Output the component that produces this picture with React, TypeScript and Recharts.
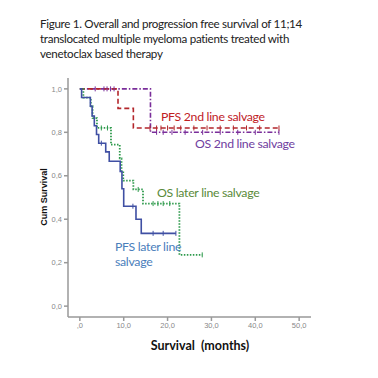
import React from 'react';
import { LineChart, Line, XAxis, YAxis } from 'recharts';

// Kaplan-Meier steps (months, cumulative survival)
const pfsLaterTimes = [0, 0.4, 2.4, 2.8, 3.3, 3.8, 4.3, 5.9, 6.7, 9.2, 9.6, 10.0, 12.8, 14.0];
const pfsLaterSurv = [1.0, 0.96, 0.92, 0.875, 0.83, 0.79, 0.75, 0.71, 0.667, 0.62, 0.54, 0.46, 0.4, 0.335];
const pfsLaterCensor = [4.9, 12.1, 16.7, 19.0, 21.9];

const osLaterTimes = [0, 0.8, 2.5, 2.9, 3.9, 7.1, 9.1, 9.5, 9.9, 12.2, 14.4, 22.7];
const osLaterSurv = [1.0, 0.96, 0.92, 0.865, 0.82, 0.743, 0.68, 0.62, 0.578, 0.537, 0.472, 0.236];
const osLaterCensor = [4.9, 6.3, 13.3, 16.7, 17.8, 19.0, 20.5, 27.9];

const pfs2ndTimes = [0, 8.7, 12.2];
const pfs2ndSurv = [1.0, 0.91, 0.82];
const pfs2ndCensor = [16.0, 17.5, 18.5, 20.0, 21.5, 23.0, 26.0, 29.0, 32.0, 35.0, 38.0, 41.0, 45.4];

const os2ndTimes = [0, 16.1];
const os2ndSurv = [1.0, 0.8];
const os2ndCensor = [3.5, 5.5, 6.2, 7.0, 7.8, 17.5, 19.0, 21.0, 24.0, 28.0, 32.0, 36.0, 40.0, 45.4];

const xTicks = [0, 10, 20, 30, 40, 50];
const yTicks = [0, 0.2, 0.4, 0.6, 0.8, 1.0];

type Pt = { t: number; s: number; c: boolean };

function buildCurve(times: number[], surv: number[], censor: number[]): Pt[] {
    const pts: Pt[] = times.map((t, i) => ({ t, s: surv[i], c: false }));
    censor.forEach((t) => {
        let s = surv[0];
        times.forEach((tt, i) => { if (tt <= t) s = surv[i]; });
        pts.push({ t, s, c: true });
    });
    return pts.sort((a, b) => a.t - b.t);
}

const pfsLater = buildCurve(pfsLaterTimes, pfsLaterSurv, pfsLaterCensor);
const osLater = buildCurve(osLaterTimes, osLaterSurv, osLaterCensor);
const pfs2nd = buildCurve(pfs2ndTimes, pfs2ndSurv, pfs2ndCensor);
const os2nd = buildCurve(os2ndTimes, os2ndSurv, os2ndCensor);

// eslint-disable-next-line @typescript-eslint/no-explicit-any
const censorDot = (color: string) => (props: any) => {
    const { cx, cy, payload, index } = props;
    if (!payload?.c) return <g key={index} />;
    return <line key={index} x1={cx} x2={cx} y1={cy - 2.5} y2={cy + 2.5} stroke={color} strokeWidth={1} />;
};

const fmtComma = (v: number) => v.toFixed(1).replace('.', ',');
const fmtX = (v: number) => (v === 0 ? ',0' : fmtComma(v));

const txt: React.CSSProperties = { position: 'absolute', whiteSpace: 'nowrap', lineHeight: 1, fontFamily: 'Lato, sans-serif' };

export default function App() {
    return (
        <div style={{ position: 'absolute', left: 0, top: 0, width: 378, height: 378, background: '#fff', overflow: 'hidden' }}>
            <div style={{ ...txt, left: 40, top: 16, fontSize: 11.6, lineHeight: '15px', color: '#222', letterSpacing: -0.3 }}>
                Figure 1. Overall and progression free survival of 11;14<br />
                translocated multiple myeloma patients treated with<br />
                venetoclax based therapy
            </div>
            <LineChart width={378} height={378} margin={{ top: 78, right: 67, bottom: 31, left: 28 }}>
                <XAxis
                    xAxisId="b"
                    dataKey="t"
                    type="number"
                    domain={[-2.7, 52.7]}
                    ticks={xTicks}
                    tickFormatter={fmtX}
                    height={30}
                    stroke="#999"
                    strokeWidth={1.5}
                    tickSize={4}
                    tick={{ fill: '#888', fontSize: 7.5, fontFamily: 'Liberation Sans' }}
                    allowDataOverflow
                />
                <XAxis xAxisId="top" orientation="top" type="number" domain={[-2.7, 52.7]} tick={false} tickLine={false} height={0} stroke="#999" />
                <YAxis
                    yAxisId="l"
                    type="number"
                    domain={[-0.05, 1.05]}
                    ticks={yTicks}
                    tickFormatter={fmtComma}
                    width={40}
                    stroke="#999"
                    strokeWidth={1.5}
                    tickSize={4}
                    tick={{ fill: '#888', fontSize: 7.5, fontFamily: 'Liberation Sans' }}
                    allowDataOverflow
                />
                <YAxis yAxisId="r" orientation="right" type="number" domain={[-0.05, 1.05]} tick={false} tickLine={false} width={0} stroke="#999" />
                <Line xAxisId="b" yAxisId="l" data={os2nd} dataKey="s" type="stepAfter" stroke="#7a2e9a" strokeWidth={1.6}
                    strokeDasharray="5 2 1.5 2" dot={censorDot('#7a2e9a')} activeDot={false} isAnimationActive={false} />
                <Line xAxisId="b" yAxisId="l" data={pfs2nd} dataKey="s" type="stepAfter" stroke="#b3262b" strokeWidth={1.6}
                    strokeDasharray="5 3" dot={censorDot('#b3262b')} activeDot={false} isAnimationActive={false} />
                <Line xAxisId="b" yAxisId="l" data={osLater} dataKey="s" type="stepAfter" stroke="#2e9a4c" strokeWidth={1.8}
                    strokeDasharray="1.5 1.5" dot={censorDot('#2e9a4c')} activeDot={false} isAnimationActive={false} />
                <Line xAxisId="b" yAxisId="l" data={pfsLater} dataKey="s" type="stepAfter" stroke="#3f4fa3" strokeWidth={1.6}
                    dot={censorDot('#3f4fa3')} activeDot={false} isAnimationActive={false} />
            </LineChart>
            <div style={{ ...txt, left: 161, top: 111, fontSize: 12.3, color: '#c0201f', letterSpacing: -0.3 }}>PFS 2nd line salvage</div>
            <div style={{ ...txt, left: 195, top: 138, fontSize: 12.3, color: '#7040a0', letterSpacing: -0.3 }}>OS 2nd line salvage</div>
            <div style={{ ...txt, left: 157, top: 187, fontSize: 12.3, color: '#5a8a3a', letterSpacing: -0.3 }}>OS later line salvage</div>
            <div style={{ ...txt, left: 115, top: 239, fontSize: 12.3, lineHeight: '15px', color: '#4a7ebb', letterSpacing: -0.3 }}>
                PFS later line<br />salvage
            </div>
            <div style={{ ...txt, left: 44, top: 197, fontSize: 9, fontWeight: 700, fontFamily: 'Liberation Sans, sans-serif', color: '#111', transform: 'translate(-50%, -50%) rotate(-90deg)' }}>
                Cum Survival
            </div>
            <div style={{ ...txt, left: 200, top: 346, fontSize: 12.5, fontWeight: 700, color: '#111', transform: 'translate(-50%, -50%)', whiteSpace: 'pre' }}>
                Survival  (months)
            </div>
        </div>
    );
}
